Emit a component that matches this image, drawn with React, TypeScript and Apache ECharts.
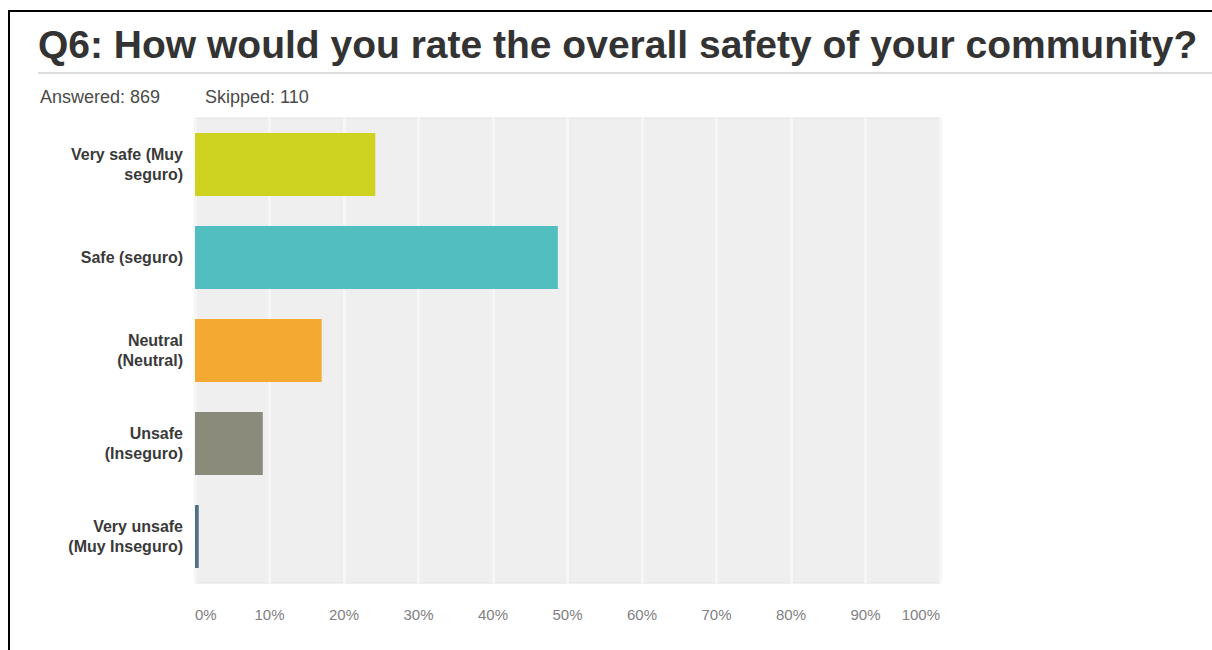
import React, { useEffect, useRef } from "react";
import * as echarts from "echarts";

const TITLE = "Q6: How would you rate the overall safety of your community?";
const ANSWERED = "Answered: 869";
const SKIPPED = "Skipped: 110";

const categories = [
  "Very safe (Muy\nseguro)",
  "Safe (seguro)",
  "Neutral\n(Neutral)",
  "Unsafe\n(Inseguro)",
  "Very unsafe\n(Muy Inseguro)",
];
const values = [24.2, 48.7, 17.0, 9.1, 0.5];
const barColors = ["#cdd320", "#53bec0", "#f4aa32", "#8a8b7a", "#4e7184"];

export default function App() {
  const ref = useRef<HTMLDivElement>(null);
  useEffect(() => {
    if (!ref.current) return;
    const chart = echarts.init(ref.current, null, { renderer: "svg" });
    chart.setOption({
      animation: false,
      backgroundColor: "#ffffff",
      grid: {
        left: 195,
        right: 272,
        top: 118,
        bottom: 67,
        show: true,
        backgroundColor: "#efefef",
        borderColor: "#e2e2e2",
        borderWidth: 1,
      },
      xAxis: {
        type: "value",
        min: 0,
        max: 100,
        interval: 10,
        axisLine: { show: false },
        axisTick: { show: false },
        splitLine: { show: true, lineStyle: { color: "#f6f6f6", width: 3 } },
        axisLabel: {
          formatter: "{value}%",
          color: "#808080",
          fontSize: 15,
          fontFamily: "Liberation Sans, Arial, sans-serif",
          margin: 24,
          alignMinLabel: "left",
          alignMaxLabel: "right",
        },
      },
      yAxis: {
        type: "category",
        inverse: true,
        data: categories,
        axisLine: { show: false },
        axisTick: { show: false },
        splitLine: { show: false },
        axisLabel: {
          color: "#3a3a3a",
          fontSize: 16,
          fontWeight: "bold",
          fontFamily: "Liberation Sans, Arial, sans-serif",
          lineHeight: 20,
          margin: 12,
          align: "right",
        },
      },
      series: [
        {
          type: "bar",
          barWidth: 63,
          data: values.map((v, i) => ({ value: v, itemStyle: { color: barColors[i] } })),
        },
      ],
      graphic: [
        {
          type: "rect",
          shape: { x: 9, y: 11, width: 1400, height: 800 },
          style: { fill: "none", stroke: "#000000", lineWidth: 2 },
          silent: true,
        },
        {
          type: "text",
          x: 38,
          y: 44,
          style: {
            text: TITLE,
            fontSize: 39,
            fontWeight: "bold",
            fontFamily: "Liberation Sans, Arial, sans-serif",
            fill: "#333333",
            textVerticalAlign: "middle",
          },
        },
        {
          type: "rect",
          shape: { x: 38, y: 72, width: 1200, height: 2 },
          style: { fill: "#dddddd" },
          silent: true,
        },
        {
          type: "text",
          x: 40,
          y: 97,
          style: {
            text: ANSWERED,
            fontSize: 18,
            fontFamily: "Liberation Sans, Arial, sans-serif",
            fill: "#4a4a4a",
            textVerticalAlign: "middle",
          },
        },
        {
          type: "text",
          x: 205,
          y: 97,
          style: {
            text: SKIPPED,
            fontSize: 18,
            fontFamily: "Liberation Sans, Arial, sans-serif",
            fill: "#4a4a4a",
            textVerticalAlign: "middle",
          },
        },
      ],
    });
    return () => chart.dispose();
  }, []);
  return (
    <div
      ref={ref}
      style={{ position: "fixed", left: 0, top: 0, width: 1212, height: 650 }}
    />
  );
}
